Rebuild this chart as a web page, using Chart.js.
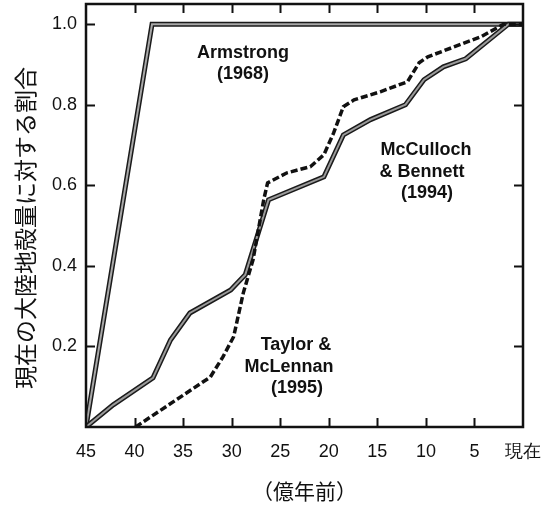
<!DOCTYPE html>
<html>
<head>
<meta charset="utf-8">
<script src="https://cdn.jsdelivr.net/npm/chart.js@4/dist/chart.umd.min.js"></script>
<style>
  html, body { margin: 0; padding: 0; background: #fff; }
  #wrap { width: 559px; height: 505px; }
</style>
</head>
<body>
<div id="wrap"><canvas id="c" width="559" height="505"></canvas></div>
<script>
// ---- data (age in 億年前, fraction of present continental crust) ----
const armstrongAge  = [45, 38.2, 0];
const armstrongFrac = [0, 1.0, 1.0];

const mcAge  = [45, 42.2, 38.1, 36.3, 34.3, 30.1, 28.6, 26.2, 20.5, 18.5, 15.7, 12.1, 10.2, 8.2, 5.9, 1.5, 0];
const mcFrac = [0, 0.055, 0.122, 0.216, 0.283, 0.34, 0.378, 0.564, 0.621, 0.725, 0.763, 0.80, 0.862, 0.894, 0.914, 1.0, 1.0];

const tmAge  = [39.9, 32.2, 30.9, 29.8, 28.8, 27.8, 26.7, 26.3, 24.3, 21.9, 20.5, 19.5, 18.5, 17.4, 14.7, 11.9, 10.7, 9.8, 4.3, 2.0, 0];
const tmFrac = [0, 0.124, 0.174, 0.224, 0.333, 0.415, 0.564, 0.606, 0.631, 0.646, 0.676, 0.73, 0.795, 0.812, 0.832, 0.857, 0.904, 0.919, 0.969, 1.0, 1.0];

const xTickValues = [45, 40, 35, 30, 25, 20, 15, 10, 5, 0];
const xTickLabels = ['45', '40', '35', '30', '25', '20', '15', '10', '5', '現在'];
const yTickValues = [0.2, 0.4, 0.6, 0.8, 1.0];
const yTickLabels = ['0.2', '0.4', '0.6', '0.8', '1.0'];

const xTitle = '（億年前）';
const yTitle = '現在の大陸地殻量に対する割合';

const seriesLabels = [
  { lines: ['Armstrong', '(1968)'], pos: [[243, 58], [243, 79]] },
  { lines: ['McCulloch', '& Bennett', '(1994)'], pos: [[426, 155], [422, 177], [427, 198]] },
  { lines: ['Taylor &', 'McLennan', '(1995)'], pos: [[296, 350], [289, 372], [297, 393]] }
];

const pts = (xs, ys) => xs.map((x, i) => ({ x: x, y: ys[i] }));

const framePlugin = {
  id: 'frame',
  afterDatasetsDraw(chart) {
    const { ctx, chartArea: a, scales: { x, y } } = chart;
    ctx.save();
    ctx.strokeStyle = '#111';
    ctx.lineWidth = 2.5;
    ctx.strokeRect(a.left, a.top, a.right - a.left, a.bottom - a.top);
    ctx.lineWidth = 2;
    const L = 9;
    ctx.beginPath();
    xTickValues.forEach(v => {
      const px = Math.round(x.getPixelForValue(v)) + 0.5;
      if (px <= a.left + 2 || px >= a.right - 2) return;
      ctx.moveTo(px, a.bottom); ctx.lineTo(px, a.bottom - L);
      ctx.moveTo(px, a.top); ctx.lineTo(px, a.top + L);
    });
    yTickValues.forEach(v => {
      const py = Math.round(y.getPixelForValue(v)) + 0.5;
      ctx.moveTo(a.left, py); ctx.lineTo(a.left + L, py);
      ctx.moveTo(a.right, py); ctx.lineTo(a.right - L, py);
    });
    ctx.stroke();

    // series labels
    ctx.fillStyle = '#111';
    ctx.font = 'bold 18px "Liberation Sans", Arial, sans-serif';
    ctx.textAlign = 'center';
    ctx.textBaseline = 'alphabetic';
    seriesLabels.forEach(s => s.lines.forEach((t, i) => ctx.fillText(t, s.pos[i][0], s.pos[i][1])));

    // axis titles
    ctx.font = '21px "Noto Sans CJK JP", sans-serif';
    ctx.textBaseline = 'middle';
    ctx.fillText(xTitle, (a.left + a.right) / 2, 491);
    ctx.save();
    ctx.translate(25, 228);
    ctx.rotate(-Math.PI / 2);
    ctx.font = '23px "Noto Sans CJK JP", sans-serif';
    ctx.fillText(yTitle, 0, 0);
    ctx.restore();
    ctx.restore();
  }
};

const tickFont = { family: '"Liberation Sans", Arial, sans-serif', size: 18 };

new Chart(document.getElementById('c'), {
  type: 'scatter',
  data: {
    datasets: [
      { data: pts(armstrongAge, armstrongFrac), showLine: true, borderColor: '#1a1a1a', borderWidth: 5, pointRadius: 0, order: 6 },
      { data: pts(armstrongAge, armstrongFrac), showLine: true, borderColor: '#a8a8a8', borderWidth: 2, pointRadius: 0, order: 5 },
      { data: pts(mcAge, mcFrac), showLine: true, borderColor: '#1a1a1a', borderWidth: 5, pointRadius: 0, order: 4 },
      { data: pts(mcAge, mcFrac), showLine: true, borderColor: '#9a9a9a', borderWidth: 2, pointRadius: 0, order: 3 },
      { data: pts(tmAge, tmFrac), showLine: true, borderColor: '#111', borderWidth: 3.5, borderDash: [7, 3], pointRadius: 0, order: 2 }
    ]
  },
  options: {
    responsive: false,
    animation: false,
    events: [],
    layout: { padding: { left: 0, top: 4, right: 36, bottom: 0 } },
    plugins: { legend: { display: false }, tooltip: { enabled: false } },
    scales: {
      x: {
        type: 'linear', min: 0, max: 45, reverse: true,
        afterBuildTicks: s => { s.ticks = xTickValues.map(v => ({ value: v })); },
        afterFit: s => { s.height = 78; s.paddingLeft = 0; s.paddingRight = 0; },
        ticks: {
          autoSkip: false, maxRotation: 0, padding: 14, color: '#111', font: tickFont,
          callback: (v) => xTickLabels[xTickValues.indexOf(v)]
        },
        grid: { display: true, drawOnChartArea: false, drawTicks: false, color: 'rgba(0,0,0,0)' },
        border: { display: false }
      },
      y: {
        type: 'linear', min: 0, max: 1.05,
        afterBuildTicks: s => { s.ticks = yTickValues.map(v => ({ value: v })); },
        afterFit: s => { s.width = 86; s.paddingTop = 0; s.paddingBottom = 0; },
        ticks: {
          autoSkip: false, padding: 9, color: '#111', font: tickFont,
          callback: (v) => yTickLabels[yTickValues.indexOf(v)]
        },
        grid: { display: true, drawOnChartArea: false, drawTicks: false, color: 'rgba(0,0,0,0)' },
        border: { display: false }
      }
    }
  },
  plugins: [framePlugin]
});
</script>
</body>
</html>
